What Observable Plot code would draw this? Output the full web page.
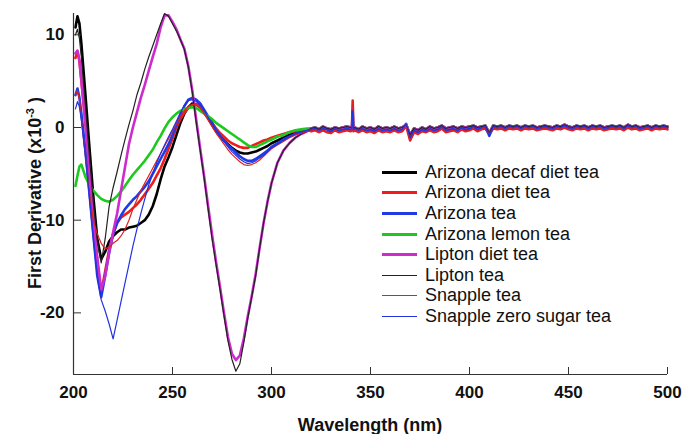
<!DOCTYPE html>
<html><head><meta charset="utf-8">
<script src="https://cdn.jsdelivr.net/npm/d3@7"></script>
<script src="https://cdn.jsdelivr.net/npm/@observablehq/plot@0.6"></script>
<style>
html,body{margin:0;padding:0;background:#fff;}
#wrap{position:relative;width:683px;height:434px;font-family:"Liberation Sans",Arial,sans-serif;}
#legend{position:absolute;left:382px;top:162px;}
.row{display:flex;align-items:center;height:20.6px;font-size:18px;color:#111;white-space:nowrap;}
.sw{width:35px;margin-right:8px;}
</style></head><body><div id="wrap"><div id="legend"></div></div>
<script>
// Wavelength grids (nm)
const wlMain = [201,202,203,204,206,208,210,212,214,216,218,220,222,224,226,228,230,232,234,236,238,240,242,244,246,248,250,252,254,256,258,260,262,264,266,268,270,272,274,276,278,280,282,284,286,288,290,292,294,296,298,300,303,306,309,312,315,318];
const wlTail = [320,322,324,326,328,330,332,334,336,338,340,340.6,341,341.4,342,344,346,348,350,352,354,356,358,360,362,364,366,368,370,372,374,376,378,380,382,384,386,388,390,392,394,396,398,400,402,404,406,408,410,412,414,416,418,420,422,424,426,428,430,432,434,436,438,440,442,444,446,448,450,452,454,456,458,460,462,464,466,468,470,472,474,476,478,480,482,484,486,488,490,492,494,496,498,500];

// Series values (x10^-3), main region
const arizonaDecafDiet = [10.8,12.0,11.2,9.0, 3.6,-2.0,-7.4,-12.0,-14.2,-13.4,-12.3,-11.7,-11.3,-11.0, -11.0,-10.8,-10.7,-10.6,-10.3,-10.0,-9.4,-8.5,-7.2,-5.6, -4.2,-3.2,-2.1,-0.8,0.5,1.5,2.2,2.6,2.5,2.2, 1.6,1.0,0.3,-0.4,-0.9,-1.4,-1.8,-2.2,-2.5,-2.7, -2.8,-2.8,-2.7,-2.6,-2.4,-2.2,-2.0,-1.7, -1.4,-1.1,-0.8,-0.6,-0.5,-0.3];
const arizonaDiet = [7.5,8.2,7.2,5.0, 0.5,-4.5,-9.5,-14.5,-17.8,-15.5,-13.2,-11.5,-10.3,-9.7, -9.4,-9.1,-8.7,-8.3,-7.8,-7.2,-6.6,-6.0,-5.2,-4.4, -3.4,-2.3,-1.2,0.0,0.9,1.6,2.1,2.4,2.5,2.2, 1.7,1.1,0.5,-0.1,-0.6,-1.0,-1.4,-1.7,-1.9,-2.1, -2.2,-2.2,-2.0,-1.8,-1.6,-1.4,-1.3,-1.1, -0.9,-0.7,-0.5,-0.4,-0.3,-0.2];
const arizonaTea = [3.5,4.2,3.2,1.5, -2.5,-7.0,-11.5,-16.0,-18.3,-16.0,-13.5,-11.5,-10.3,-9.5, -8.8,-8.3,-7.8,-7.4,-6.9,-6.4,-5.8,-5.0,-4.2,-3.4, -2.6,-1.8,-0.8,0.3,1.4,2.3,3.0,3.2,3.0,2.6, 1.9,1.2,0.5,-0.3,-0.9,-1.4,-1.9,-2.3,-2.7,-3.1, -3.4,-3.6,-3.6,-3.4,-3.1,-2.8,-2.5,-2.1, -1.7,-1.3,-1.0,-0.7,-0.5,-0.3];
const arizonaLemon = [-6.3,-5.2,-4.2,-4.0, -5.3,-6.2,-6.8,-7.3,-7.7,-7.9,-8.0,-7.8,-7.4,-6.9, -6.3,-5.7,-5.1,-4.6,-4.1,-3.6,-3.0,-2.4,-1.6,-0.9, -0.1,0.6,1.1,1.5,1.8,2.0,2.1,2.2,2.1,1.8, 1.5,1.2,0.9,0.5,0.2,-0.1,-0.4,-0.7,-1.0,-1.3, -1.6,-1.9,-2.1,-2.1,-1.9,-1.7,-1.5,-1.3, -1.0,-0.8,-0.5,-0.3,-0.2,-0.1];
const liptonDiet = [8.0,8.3,7.2,5.0, 0.5,-4.5,-9.5,-14.0,-17.5,-16.0,-13.5,-11.3,-9.3,-6.8, -4.3,-1.8,0.0,1.6,3.2,4.6,6.1,7.6,9.0,10.8, 12.1,12.1,11.4,10.6,9.5,8.5,6.6,4.0,0.8,-2.3, -5.3,-8.5,-11.6,-14.5,-17.2,-20.0,-22.6,-24.4,-25.1,-24.6, -22.8,-20.4,-18.2,-15.8,-13.0,-10.3,-8.0,-6.0, -3.8,-2.5,-1.7,-1.1,-0.7,-0.4];
const liptonTea = [10.0,10.6,9.6,7.5, 2.5,-3.0,-8.0,-12.2,-14.6,-12.0,-8.5,-6.5,-4.8,-3.0, -1.3,0.3,1.8,3.5,4.8,6.3,7.6,8.8,10.0,11.2, 12.3,12.0,11.2,10.4,9.5,8.4,6.5,3.8,0.5,-2.5, -5.5,-8.8,-12.0,-14.8,-17.5,-20.3,-23.0,-25.0,-26.3,-25.5, -23.2,-20.6,-18.3,-16.0,-13.0,-10.3,-8.0,-6.0, -3.8,-2.5,-1.7,-1.1,-0.7,-0.4];
const snappleTea = [3.5,4.0,3.0,1.0, -3.0,-7.0,-10.0,-11.5,-12.5,-13.1,-12.9,-12.5,-12.2,-11.7, -11.0,-10.0,-8.8,-7.8,-6.8,-6.0,-5.2,-4.4,-3.6,-2.8, -2.0,-1.2,-0.4,0.4,1.2,1.8,2.3,2.5,2.4,2.1, 1.5,0.8,0.1,-0.6,-1.2,-1.8,-2.4,-2.9,-3.3,-3.7, -4.0,-4.1,-4.0,-3.8,-3.5,-3.1,-2.7,-2.3, -1.9,-1.5,-1.1,-0.8,-0.6,-0.4];
const snappleZero = [2.0,2.8,2.2,0.8, -3.0,-7.5,-12.0,-16.0,-18.6,-19.8,-21.2,-22.8,-20.8,-18.8, -16.8,-14.8,-12.8,-11.0,-9.3,-7.7,-6.2,-5.0,-3.8,-2.8, -1.9,-1.0,-0.2,0.7,1.6,2.4,2.9,3.0,2.8,2.4, 1.8,1.1,0.4,-0.3,-0.9,-1.5,-2.1,-2.6,-3.0,-3.4, -3.7,-3.9,-3.8,-3.6,-3.3,-3.0,-2.6,-2.2, -1.8,-1.4,-1.0,-0.7,-0.5,-0.3];

// Tail region readings (curves overlap there)
const tailBlue = [-0.2,-0.1,-0.3,-0.1,-0.2,-0.4,-0.1,-0.3,-0.2,-0.1, -0.2,-0.1,1.8,-0.2,
 -0.1,-0.3,-0.1,-0.3,-0.2,-0.4,-0.1,-0.3,-0.2,-0.3, -0.1,-0.3,-0.2,0.4,-1.1,-0.3,-0.5,-0.2,-0.4,-0.1,
 -0.3,-0.2,0.1,-0.3,-0.2,-0.1,-0.3,0.0,-0.2,-0.1, 0.1,-0.2,0.0,0.1,-0.9,0.1,0.0,0.1,-0.1,0.1,
 0.0,0.1,-0.1,0.1,0.0,0.1,-0.1,0.0,0.1,0.0, -0.1,0.1,0.0,0.2,0.0,-0.1,0.1,0.0,0.1,-0.1,
 0.1,0.0,0.1,-0.1,0.0,0.1,0.0,0.1,-0.1,0.2, 0.0,0.1,-0.1,0.0,0.1,-0.1,0.1,0.0,0.1,0.0];
const tailRed = [-0.4,-0.3,-0.5,-0.3,-0.5,-0.6,-0.3,-0.5,-0.4,-0.3, -0.4,-0.3,2.9,-0.4,
 -0.3,-0.5,-0.3,-0.5,-0.4,-0.6,-0.3,-0.5,-0.4,-0.5, -0.3,-0.5,-0.4,0.2,-1.4,-0.5,-0.7,-0.4,-0.5,-0.3,
 -0.5,-0.4,-0.1,-0.5,-0.4,-0.3,-0.5,-0.2,-0.4,-0.3, -0.1,-0.4,-0.2,-0.1,-0.7,-0.1,-0.2,-0.1,-0.3,-0.1,
 -0.2,-0.1,-0.3,-0.1,-0.2,-0.1,-0.3,-0.2,-0.1,-0.2, -0.3,-0.1,-0.2,0.0,-0.2,-0.3,-0.1,-0.2,-0.1,-0.3,
 -0.1,-0.2,-0.1,-0.3,-0.2,-0.1,-0.2,-0.1,-0.3,0.0, -0.2,-0.1,-0.3,-0.2,-0.1,-0.3,-0.1,-0.2,-0.1,-0.2];
const tailMix = [-0.1,0.0,-0.2,0.1,-0.1,-0.2,0.0,-0.1,0.0,0.1, 0.0,0.0,0.5,0.0,
 0.0,-0.2,0.1,-0.1,0.0,-0.2,0.1,-0.1,0.0,-0.1, 0.1,-0.1,0.0,0.3,-0.8,-0.1,-0.3,0.0,-0.2,0.1,
 -0.1,0.0,0.2,-0.1,0.0,0.1,-0.1,0.1,0.0,0.1, 0.2,0.0,0.1,0.2,-0.6,0.2,0.1,0.2,0.0,0.2,
 0.1,0.2,0.0,0.2,0.1,0.2,0.0,0.1,0.2,0.1, 0.0,0.2,0.1,0.3,0.1,0.0,0.2,0.1,0.2,0.0,
 0.2,0.1,0.2,0.0,0.1,0.2,0.1,0.2,0.0,0.3, 0.1,0.2,0.0,0.1,0.2,0.0,0.2,0.1,0.2,0.1];

const names = ["Arizona decaf diet tea","Arizona diet tea","Arizona tea","Arizona lemon tea","Lipton diet tea","Lipton tea","Snapple tea","Snapple zero sugar tea"];
const xTicks = [200,250,300,350,400,450,500];
const yTicks = [-20,-10,0,10];
const xDomain = [200,500];
const yDomain = [-26.65,12.3];

const series = [
  {name:names[0], main:arizonaDecafDiet, tail:tailMix, color:"#000000", width:2.6},
  {name:names[1], main:arizonaDiet, tail:tailRed, color:"#ee1c1c", width:2.6},
  {name:names[2], main:arizonaTea, tail:tailBlue, color:"#1f3be6", width:2.6},
  {name:names[3], main:arizonaLemon, tail:tailMix, color:"#1ec81e", width:2.6},
  {name:names[4], main:liptonDiet, tail:tailMix, color:"#cc2ccc", width:2.6},
  {name:names[5], main:liptonTea, tail:tailMix, color:"#222222", width:1.2},
  {name:names[6], main:snappleTea, tail:tailRed, color:"#e22020", width:1.2},
  {name:names[7], main:snappleZero, tail:tailBlue, color:"#2233dd", width:1.2}
];
const wlAll = wlMain.concat(wlTail);
const rows = s => { const v = s.main.concat(s.tail); return wlAll.map((w,i)=>({wl:w, v:v[i]})); };

const chart = Plot.plot({
  width:683, height:434,
  marginTop:13, marginBottom:60, marginLeft:73, marginRight:16,
  style:{fontFamily:"'Liberation Sans', Arial, sans-serif", fontSize:"17px", fontWeight:"bold", color:"#111", background:"transparent"},
  x:{domain:xDomain},
  y:{domain:yDomain},
  marks:[
    ...series.map(s => Plot.line(rows(s), {x:"wl", y:"v", stroke:s.color, strokeWidth:s.width, strokeLinejoin:"round"})),
    Plot.ruleY([yDomain[0]], {stroke:"#333", strokeWidth:1.2}),
    Plot.ruleX([xDomain[0]], {stroke:"#333", strokeWidth:1.2}),
    Plot.axisX(xTicks, {tickSize:-7, tickFormat:()=>"", label:null, stroke:"#333"}),
    Plot.axisX(xTicks, {tickSize:0, tickPadding:11, label:null, fill:"#111", tickFormat:d=>String(d)}),
    Plot.axisY(yTicks, {tickSize:-8, tickFormat:()=>"", label:null, stroke:"#333"}),
    Plot.axisY(yTicks, {tickSize:0, tickPadding:9, label:null, fill:"#111", tickFormat:d=>String(d)})
  ]
});
document.getElementById("wrap").prepend(chart);

const svg = d3.select(chart);
svg.append("text").attr("x",370).attr("y",431).attr("text-anchor","middle")
  .attr("font-size",18).attr("font-weight","bold").attr("fill","#111").text("Wavelength (nm)");
const yl = svg.append("text").attr("transform","translate(41,193) rotate(-90)").attr("text-anchor","middle")
  .attr("font-size",18).attr("font-weight","bold").attr("fill","#111");
yl.append("tspan").text("First Derivative (x10");
yl.append("tspan").attr("dy",-7).attr("font-size",11).text("-3");
yl.append("tspan").attr("dy",7).text(" )");

const leg = d3.select("#legend");
series.forEach(s => {
  const r = leg.append("div").attr("class","row");
  r.append("div").attr("class","sw").style("border-top", `${s.width>2?3:1.3}px solid ${s.color}`);
  r.append("span").text(s.name);
});
</script>
</body></html>
